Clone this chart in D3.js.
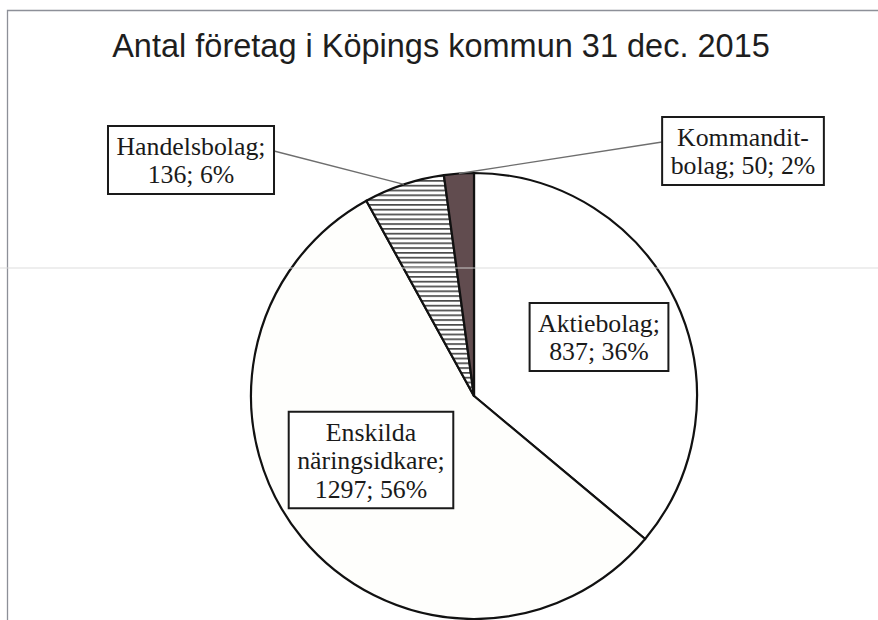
<!DOCTYPE html>
<html>
<head>
<meta charset="utf-8">
<script src="https://cdnjs.cloudflare.com/ajax/libs/d3/7.8.5/d3.min.js"></script>
<style>
  html, body { margin: 0; padding: 0; background: #fff; overflow: hidden; }
  svg { display: block; }
</style>
</head>
<body>
<script>
var categories = ["Aktiebolag", "Enskilda näringsidkare", "Handelsbolag", "Kommanditbolag"];
var counts = [837, 1297, 136, 50];
var percents = [36, 56, 6, 2];
var labelLines = [
  ["Aktiebolag;", "837; 36%"],
  ["Enskilda", "näringsidkare;", "1297; 56%"],
  ["Handelsbolag;", "136; 6%"],
  ["Kommandit-", "bolag; 50; 2%"]
];
var title = "Antal företag i Köpings kommun 31 dec. 2015";

// layout of label boxes (box centers) and leader lines
var labelBox = [
  { cx: 599, cy: 337, leader: false },
  { cx: 371, cy: 460, leader: false },
  { cx: 191, cy: 160, leader: true, side: "right" },
  { cx: 743, cy: 151, leader: true, side: "left" }
];
var fills = ["#ffffff", "#fefefc", "url(#hstripes)", "#614c4f"];

var width = 878, height = 620;
var cx = 474, cy = 396, radius = 223;
var fontSize = 25.8, lineH = 28.5;

var svg = d3.select("body").append("svg")
  .attr("width", width)
  .attr("height", height);

var defs = svg.append("defs");
var pat = defs.append("pattern")
  .attr("id", "hstripes")
  .attr("patternUnits", "userSpaceOnUse")
  .attr("width", 8)
  .attr("height", 4.8);
pat.append("rect").attr("width", 8).attr("height", 4.8).attr("fill", "#fff");
pat.append("rect").attr("y", 0).attr("width", 8).attr("height", 1.7).attr("fill", "#4a4a4a");

// outer frame of the chart area (only top and left edges are in view)
svg.append("path")
  .attr("d", "M7.5," + height + "V10.5H" + width)
  .attr("fill", "none")
  .attr("stroke", "#8d9098")
  .attr("stroke-width", 1.3);

svg.append("text")
  .attr("x", 441)
  .attr("y", 57)
  .attr("text-anchor", "middle")
  .attr("font-family", "'Liberation Sans', Arial, sans-serif")
  .attr("font-size", 32.5)
  .attr("fill", "#1e1e1e")
  .text(title);

var pie = d3.pie().sort(null).value(function(d) { return d; });
var arcs = pie(counts);
var arc = d3.arc().innerRadius(0).outerRadius(radius);

var g = svg.append("g").attr("transform", "translate(" + cx + "," + cy + ")");

g.selectAll("path")
  .data(arcs)
  .enter()
  .append("path")
  .attr("d", arc)
  .attr("fill", function(d, i) { return fills[i]; })
  .attr("stroke", "#111")
  .attr("stroke-width", 2.2)
  .attr("stroke-linejoin", "round");

// faint scan line across the page
svg.append("line")
  .attr("x1", 0).attr("x2", width)
  .attr("y1", 268).attr("y2", 268)
  .attr("stroke", "#d8d8d8")
  .attr("stroke-opacity", 0.6)
  .attr("stroke-width", 1.5);

// labels
var boxes = svg.selectAll("g.lbl")
  .data(arcs)
  .enter()
  .append("g")
  .attr("class", "lbl");

boxes.each(function(d, i) {
  var sel = d3.select(this);
  var lay = labelBox[i];
  var lines = labelLines[i];
  var n = lines.length;
  var txt = sel.append("text")
    .attr("text-anchor", "middle")
    .attr("font-family", "'Liberation Serif', 'Times New Roman', serif")
    .attr("font-size", fontSize)
    .attr("fill", "#1a1a1a");
  lines.forEach(function(s, k) {
    txt.append("tspan")
      .attr("x", lay.cx)
      .attr("y", lay.cy - (n - 1) * lineH / 2 + 9 + k * lineH)
      .text(s);
  });
  var bb = txt.node().getBBox();
  var bw = bb.width + 17, bh = n * lineH + 11;
  var bx = lay.cx - bw / 2, by = lay.cy - bh / 2;
  sel.insert("rect", "text")
    .attr("x", bx)
    .attr("y", by)
    .attr("width", bw)
    .attr("height", bh)
    .attr("fill", "#fff")
    .attr("stroke", "#1a1a1a")
    .attr("stroke-width", 2);

  if (lay.leader) {
    var mid = (d.startAngle + d.endAngle) / 2;
    var ex = cx + radius * Math.sin(mid);
    var ey = cy - radius * Math.cos(mid);
    var sx = lay.side === "right" ? bx + bw : bx;
    svg.insert("line", "g.lbl")
      .attr("x1", sx)
      .attr("y1", lay.cy - 9)
      .attr("x2", ex)
      .attr("y2", ey)
      .attr("stroke", "#6e6e6e")
      .attr("stroke-width", 1.3);
  }
});
</script>
</body>
</html>
